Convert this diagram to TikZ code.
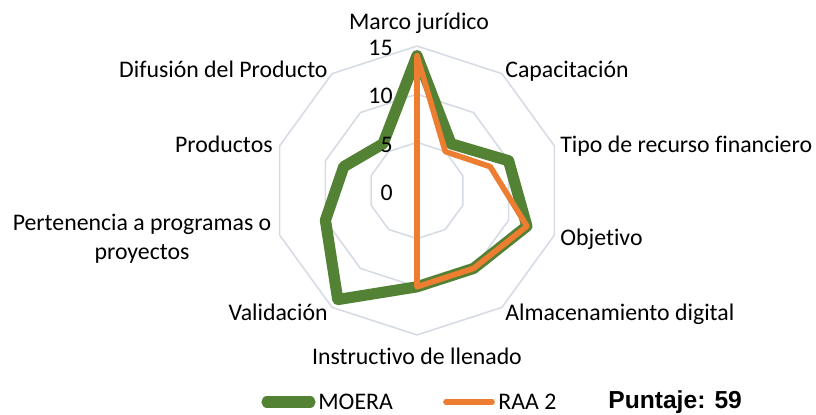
\documentclass[tikz,border=0pt]{standalone}
\usepackage{fontspec}
\setmainfont[Ligatures=NoCommon]{Carlito}
\newfontfamily\scorefont{Liberation Sans}
\usepackage{xcolor}
\usetikzlibrary{positioning}
\definecolor{moera}{HTML}{548235}
\definecolor{raa}{HTML}{ED7D31}
\definecolor{gridline}{HTML}{D6DCE4}
\newcommand{\unitr}{9.63}
\tikzset{
  ring/.style={draw=gridline, line width=0.8pt, line join=round},
  moera series/.style={draw=moera, line width=5.6pt, line join=round, line cap=round},
  raa series/.style={draw=raa, line width=2.8pt, line join=round, line cap=round},
  cat label/.style={font=\fontsize{11.9}{14}\selectfont, inner sep=0pt, text height=7.7pt, text depth=0pt},
  tick label/.style={cat label, anchor=east},
}

\begin{document}
\begin{tikzpicture}[x=0.5pt, y=0.5pt]
  \useasboundingbox (0,0) rectangle (816,414);
  \coordinate (c) at (417,223.5);

  % GRID RINGS (5, 10, 15)
  \foreach \lvl in {5,10,15}
    \draw[ring, shift={(c)}] (90:{\lvl*\unitr}) \foreach \k in {1,...,9} {-- ({90-36*\k}:{\lvl*\unitr})} -- cycle;

  % SERIES POINTS, clockwise from Marco juridico
  \foreach \v [count=\i from 0] in {14,6,10,12,10,10,14,10,8,6}
    \coordinate (moera\i) at ([shift={({90-36*\i}:{\v*\unitr})}]c);
  \foreach \v [count=\i from 0] in {14,5,8,12,10,10,0,0,0,0}
    \coordinate (raa\i) at ([shift={({90-36*\i}:{\v*\unitr})}]c);

  % MOERA
  \draw[moera series] (moera0) -- (moera1) -- (moera2) -- (moera3) -- (moera4) -- (moera5) -- (moera6) -- (moera7) -- (moera8) -- (moera9) -- cycle;
  % RAA 2
  \draw[raa series] (raa0) -- (raa1) -- (raa2) -- (raa3) -- (raa4) -- (raa5) -- (raa6) -- (raa7) -- (raa8) -- (raa9) -- cycle;

  % TICK LABELS (on top of the series)
  \foreach \v in {0,5,10,15}
    \node[tick label] (tick\v) at ([shift={(-24,{\v*\unitr-2})}]c) {\v};

  % CATEGORY LABELS
  \node[cat label] (marco) at (419,392) {Marco jurídico};
  \node[cat label, anchor=west] (capac) at (505,344) {Capacitación};
  \node[cat label, anchor=west] (tipo) at (560,269) {Tipo de recurso financiero};
  \node[cat label, anchor=west] (objetivo) at (560,176) {Objetivo};
  \node[cat label, anchor=west] (almac) at (505,101) {Almacenamiento digital};
  \node[cat label] (instr) at (417,57) {Instructivo de llenado};
  \node[cat label, anchor=east] (valid) at (328,101) {Validación};
  \node[cat label] (perten) at (142,191) {Pertenencia a programas o};
  \node[cat label] (proyec) at (142,162) {proyectos};
  \node[cat label, anchor=east] (produc) at (273,269) {Productos};
  \node[cat label, anchor=east] (difus) at (328,344) {Difusión del Producto};

  % LEGEND
  \coordinate (lgm1) at (267,12);
  \coordinate (lgm2) at (310,12);
  \draw[moera series] (lgm1) -- (lgm2);
  \node[cat label, right=4pt of lgm2] (lgmoera) {MOERA};
  \coordinate (lgr1) at (446,12);
  \coordinate (lgr2) at (492,12);
  \draw[raa series] (lgr1) -- (lgr2);
  \node[cat label, right=3pt of lgr2] (lgraa) {RAA 2};

  % SCORE
  \node[font=\scorefont\bfseries\fontsize{12.3}{14}\selectfont, anchor=base west, inner sep=0pt] (score) at (608,6) {Puntaje: 59};
\end{tikzpicture}
\end{document}
